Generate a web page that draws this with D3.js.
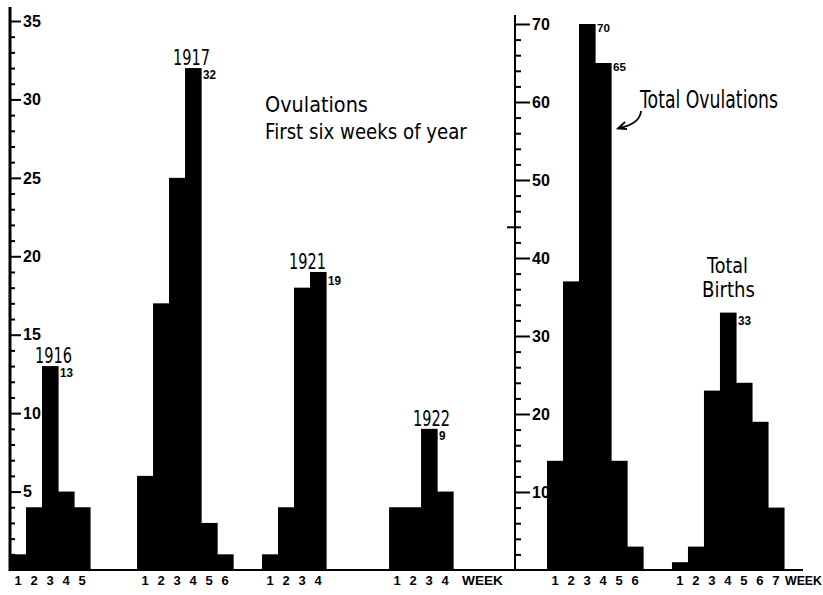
<!DOCTYPE html>
<html>
<head>
<meta charset="utf-8">
<script src="https://cdn.jsdelivr.net/npm/d3@7"></script>
<style>
  html, body { margin: 0; padding: 0; background: #fff; }
  svg { display: block; }
</style>
</head>
<body>
<svg id="chart" width="823" height="595"></svg>
<script>
// Weekly ovulation counts for the first weeks of each year
const years = ["1916", "1917", "1921", "1922"];
const ov1916 = [1, 4, 13, 5, 4];
const ov1917 = [6, 17, 25, 32, 3, 1];
const ov1921 = [1, 4, 18, 19];
const ov1922 = [4, 4, 9, 5];
const ovulationsByYear = [ov1916, ov1917, ov1921, ov1922];

// Totals across all years
const totalOvulations = [14, 37, 70, 65, 14, 3];
const totalBirths = [1, 3, 23, 33, 24, 19, 8];

// Axis ticks
const leftTicks = [5, 10, 15, 20, 25, 30, 35];
const rightTicks = [10, 20, 30, 40, 50, 60, 70];

// Layout (in week units along each panel)
const groupStart = [0, 7.94, 15.75, 23.69];
const yearLabelDx = [1.56, 2.25, 1.69, 1.5];
const ovStart = 2;
const birthStart = 9.81;

const svg = d3.select("#chart");
const base = 570;

const xL = d3.scaleLinear().domain([0, 31]).range([10, 506]);
const xR = d3.scaleLinear().domain([0, 18]).range([515, 803]);
const yL = d3.scaleLinear().domain([0, 35]).range([base, 21]);
const yR = d3.scaleLinear().domain([0, 70]).range([base, 24]);

const numFont = "'Liberation Sans', Arial, sans-serif";
const handFont = "'DejaVu Sans', sans-serif";

// Narrow lettering: text drawn at full height, squeezed horizontally to a given width
function narrowText(txt, x, y, width, size, opts = {}) {
  const t = svg.append("text")
    .attr("font-family", opts.family || handFont)
    .attr("font-size", size)
    .attr("font-weight", opts.weight || "normal")
    .text(txt);
  const w = t.node().getComputedTextLength();
  t.attr("transform", `translate(${x},${y}) scale(${width / w},1)`);
  return t;
}

// Baseline
svg.append("line")
  .attr("x1", 9).attr("x2", 803).attr("y1", base).attr("y2", base)
  .attr("stroke", "#000").attr("stroke-width", 2);

// Left axis
svg.append("line")
  .attr("x1", xL(0)).attr("x2", xL(0)).attr("y1", 7).attr("y2", base + 1)
  .attr("stroke", "#000").attr("stroke-width", 3);

const leftAxis = d3.axisRight(yL)
  .tickValues(d3.range(1, 36))
  .tickSize(0)
  .tickFormat("");
const la = svg.append("g").attr("transform", `translate(${xL(0)},0)`).call(leftAxis);
la.select(".domain").remove();
la.selectAll(".tick line")
  .attr("x2", d => d % 5 === 0 ? 11 : 5)
  .attr("stroke", "#000").attr("stroke-width", 2);
svg.append("g").selectAll("text").data(leftTicks).join("text")
  .attr("x", xL(0) + 13).attr("y", d => yL(d))
  .attr("dy", "0.36em")
  .attr("font-family", numFont).attr("font-weight", "bold").attr("font-size", 16)
  .text(d => d);

// Right axis
svg.append("line")
  .attr("x1", xR(0)).attr("x2", xR(0)).attr("y1", 15).attr("y2", base + 1)
  .attr("stroke", "#000").attr("stroke-width", 2);

const rightAxis = d3.axisRight(yR)
  .tickValues(d3.range(2, 71, 2))
  .tickSize(0)
  .tickFormat("");
const ra = svg.append("g").attr("transform", `translate(${xR(0)},0)`).call(rightAxis);
ra.select(".domain").remove();
ra.selectAll(".tick line")
  .attr("x1", d => d === 44 ? -8 : 0)
  .attr("x2", d => d % 10 === 0 ? 15 : 6)
  .attr("stroke", "#000").attr("stroke-width", 2);
svg.append("g").selectAll("text").data(rightTicks).join("text")
  .attr("x", xR(0) + 17).attr("y", d => yR(d))
  .attr("dy", "0.36em")
  .attr("font-family", numFont).attr("font-weight", "bold").attr("font-size", 16)
  .text(d => d);

// Draws one histogram group with its week numbers underneath
function drawGroup(values, x, y, start) {
  const g = svg.append("g");
  g.selectAll("rect").data(values).join("rect")
    .attr("x", (d, i) => x(start + i))
    .attr("width", x(1) - x(0) + 0.6)
    .attr("y", d => y(d))
    .attr("height", d => base - y(d) + 0.5)
    .attr("fill", "#000");
  g.selectAll("text").data(values).join("text")
    .attr("x", (d, i) => x(start + i + 0.5))
    .attr("y", 585)
    .attr("text-anchor", "middle")
    .attr("font-family", numFont).attr("font-weight", "bold").attr("font-size", 13)
    .text((d, i) => i + 1);
}

// Value written beside the top right corner of a bar
function barValue(v, x, y, idx, dy, size) {
  narrowText(String(v), x(idx + 1) + 2, y(v) + dy, String(v).length * 6.5, size,
    { family: numFont, weight: "bold" });
}

ovulationsByYear.forEach((vals, k) => {
  drawGroup(vals, xL, yL, groupStart[k]);
  const i = d3.maxIndex(vals);
  narrowText(years[k], xL(groupStart[k] + yearLabelDx[k]), yL(vals[i]) - 3, 37, 21);
  barValue(vals[i], xL, yL, groupStart[k] + i, k === 2 ? 13 : 11, 12);
});

drawGroup(totalOvulations, xR, yR, ovStart);
drawGroup(totalBirths, xR, yR, birthStart);

// The two tallest total ovulation bars carry their values
[2, 3].forEach(i => barValue(totalOvulations[i], xR, yR, ovStart + i, 8, 11));
const bi = d3.maxIndex(totalBirths);
barValue(totalBirths[bi], xR, yR, birthStart + bi, 12, 12);

// WEEK captions
narrowText("WEEK", 462, 585, 41, 13, { family: numFont, weight: "bold" });
narrowText("WEEK", 785, 585, 37, 13, { family: numFont, weight: "bold" });

// Titles
narrowText("Ovulations", 265, 112, 103, 22);
narrowText("First six weeks of year", 265, 139, 202, 21);
narrowText("Total Ovulations", 640, 108, 138, 24);
narrowText("Total", 707, 273, 41, 21);
narrowText("Births", 702, 297, 53, 22);

// Arrow pointing from the caption to the ovulation totals
svg.append("path")
  .attr("d", "M641,111 Q640,124 619,128")
  .attr("fill", "none").attr("stroke", "#000").attr("stroke-width", 1.8);
svg.append("path")
  .attr("d", "M625,122 L618,128.5 L627,129")
  .attr("fill", "none").attr("stroke", "#000").attr("stroke-width", 1.8);
</script>
</body>
</html>
